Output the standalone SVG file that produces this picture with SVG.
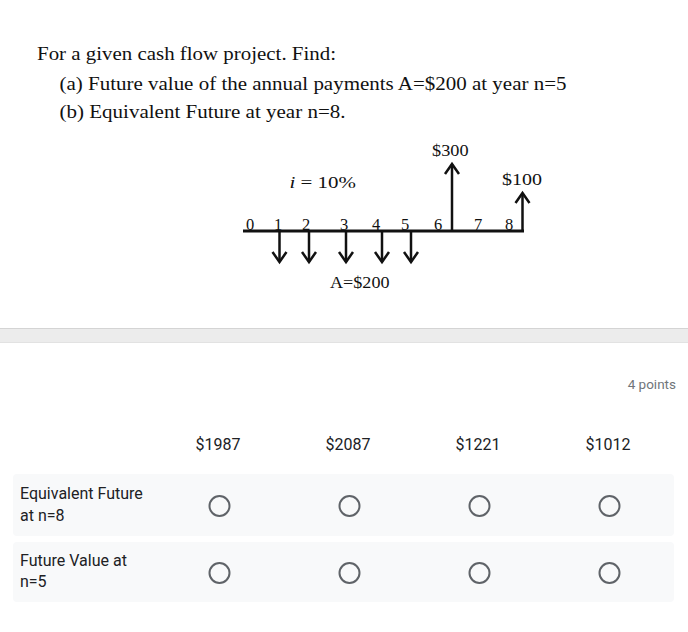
<svg xmlns="http://www.w3.org/2000/svg" width="688" height="632" viewBox="0 0 688 632">
  <style>
    .serif { font-family: "Liberation Serif", "Times New Roman", serif; fill: #111; }
    .title { font-size: 18.5px; }
    .dlab { font-size: 16px; }
    .num { font-size: 16.5px; text-anchor: middle; }
    .ax { stroke: #111; stroke-width: 3; fill: none; }
    .flow { stroke: #111; stroke-width: 2.5; fill: none; }
    .ui { font-family: Roboto, "Liberation Sans", Arial, sans-serif; fill: #202124; font-size: 16px; }
    .hdr { text-anchor: middle; }
    .pts { font-size: 13.5px; fill: #70757a; text-anchor: end; }
    .row { fill: #f8f9fa; }
    .radio { fill: none; stroke: #5f6368; stroke-width: 2; }
  </style>
  <defs>
    <marker id="chev" markerUnits="userSpaceOnUse" viewBox="-12 -9 14 18" refX="0" refY="0" markerWidth="14" markerHeight="18" orient="auto" overflow="visible">
      <path d="M-10,-7 L0,0 L-10,7" fill="none" stroke="#111" stroke-width="2.5"/>
    </marker>
  </defs>
  <rect width="688" height="632" fill="#ffffff"/>

  <g id="question">
    <text class="serif title" x="37" y="60" textLength="299" lengthAdjust="spacingAndGlyphs">For a given cash flow project. Find:</text>
    <text class="serif title" x="59.5" y="89.5" textLength="507" lengthAdjust="spacingAndGlyphs">(a) Future value of the annual payments A=$200 at year n=5</text>
    <text class="serif title" x="59.5" y="118" textLength="286" lengthAdjust="spacingAndGlyphs">(b) Equivalent Future at year n=8.</text>
  </g>

  <g id="cashflow">
    <line id="axis" class="ax" x1="243" y1="231" x2="524" y2="231"/>
    <g id="axis-numbers" class="serif num">
      <text x="250" y="229.5">0</text>
      <text x="278" y="229.5">1</text>
      <text x="306" y="229.5">2</text>
      <text x="344" y="229.5">3</text>
      <text x="376" y="229.5">4</text>
      <text x="405" y="229.5">5</text>
      <text x="438" y="229.5">6</text>
      <text x="478" y="229.5">7</text>
      <text x="509" y="229.5">8</text>
    </g>
    <g id="connectors">
      <line class="flow" x1="279.5" y1="231" x2="279.5" y2="262" marker-end="url(#chev)"/>
      <line class="flow" x1="309" y1="231" x2="309" y2="262" marker-end="url(#chev)"/>
      <line class="flow" x1="346" y1="231" x2="346" y2="262" marker-end="url(#chev)"/>
      <line class="flow" x1="382" y1="231" x2="382" y2="262" marker-end="url(#chev)"/>
      <line class="flow" x1="411" y1="231" x2="411" y2="262" marker-end="url(#chev)"/>
      <line class="flow" x1="452" y1="231" x2="452" y2="164" marker-end="url(#chev)"/>
      <line class="flow" x1="522.5" y1="231" x2="522.5" y2="193" marker-end="url(#chev)"/>
    </g>
    <text class="serif dlab" x="432" y="156" textLength="36.5" lengthAdjust="spacingAndGlyphs">$300</text>
    <text class="serif dlab" x="502" y="184.5" textLength="40" lengthAdjust="spacingAndGlyphs">$100</text>
    <text class="serif dlab" x="289.5" y="188" textLength="66.5" lengthAdjust="spacingAndGlyphs"><tspan font-style="italic">i</tspan> = 10%</text>
    <text class="serif dlab" x="330" y="288" textLength="59.5" lengthAdjust="spacingAndGlyphs">A=$200</text>
  </g>

  <g id="divider">
    <rect x="0" y="328" width="688" height="15" fill="#ececec"/>
    <line x1="0" y1="328.5" x2="688" y2="328.5" stroke="#d4d4d4" stroke-width="1"/>
    <line x1="0" y1="342.5" x2="688" y2="342.5" stroke="#e2e2e2" stroke-width="1"/>
  </g>

  <g id="grid">
    <text class="ui pts" x="676" y="388.5">4 points</text>
    <g id="headers" class="ui hdr">
      <text x="218" y="450">$1987</text>
      <text x="348" y="450">$2087</text>
      <text x="478" y="450">$1221</text>
      <text x="608" y="450">$1012</text>
    </g>
    <g id="row-equivalent">
      <rect class="row" x="13" y="474" width="661" height="62" rx="4"/>
      <text class="ui" x="20" y="499">Equivalent Future</text>
      <text class="ui" x="20" y="521">at n=8</text>
      <circle class="radio" cx="219.5" cy="506" r="10"/>
      <circle class="radio" cx="349.5" cy="506" r="10"/>
      <circle class="radio" cx="479.5" cy="506" r="10"/>
      <circle class="radio" cx="609.5" cy="506" r="10"/>
    </g>
    <g id="row-future">
      <rect class="row" x="13" y="542" width="661" height="60" rx="4"/>
      <text class="ui" x="20" y="565.5">Future Value at</text>
      <text class="ui" x="20" y="587">n=5</text>
      <circle class="radio" cx="219.5" cy="573" r="10"/>
      <circle class="radio" cx="349.5" cy="573" r="10"/>
      <circle class="radio" cx="479.5" cy="573" r="10"/>
      <circle class="radio" cx="609.5" cy="573" r="10"/>
    </g>
  </g>
</svg>
